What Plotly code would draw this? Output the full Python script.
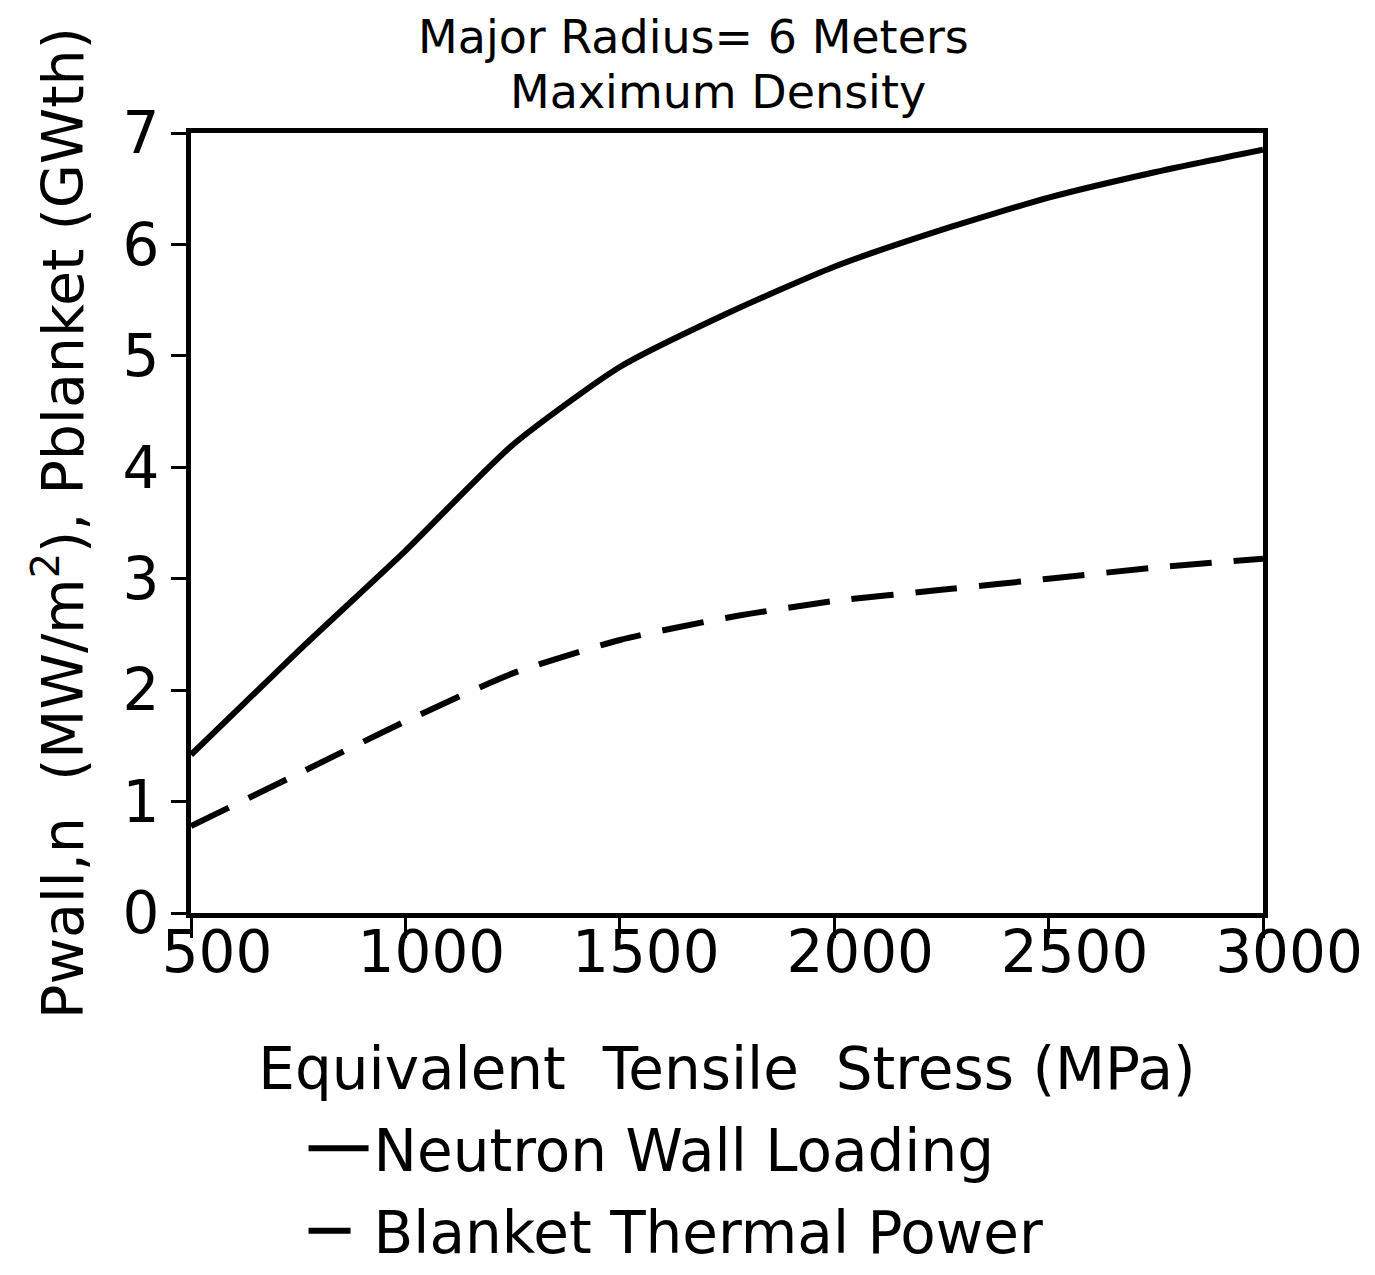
import plotly.graph_objects as go

stress_mpa = [500, 750, 1000, 1250, 1500, 1750, 2000, 2250, 2500, 2750, 3000]
wall_loading = [1.42, 2.35, 3.25, 4.20, 4.90, 5.38, 5.80, 6.13, 6.42, 6.65, 6.85]
blanket_power = [0.78, 1.25, 1.72, 2.15, 2.45, 2.65, 2.80, 2.90, 3.00, 3.10, 3.18]

x_ticks = [500, 1000, 1500, 2000, 2500, 3000]
y_ticks = [0, 1, 2, 3, 4, 5, 6, 7]

FONT = "DejaVu Sans, sans-serif"

fig = go.Figure()
fig.add_trace(go.Scatter(
    x=stress_mpa, y=wall_loading, mode="lines", name="Neutron Wall Loading",
    line=dict(color="black", width=6, shape="spline", smoothing=0.6),
    legendgroup="a",
))
fig.add_trace(go.Scatter(
    x=stress_mpa, y=blanket_power, mode="lines", name="Blanket Thermal Power",
    line=dict(color="black", width=6, dash="42px,22px", shape="spline", smoothing=0.6),
    legendgroup="b",
))

fig.update_layout(
    width=1375, height=1275,
    margin=dict(l=183, r=120, t=125, b=370, autoexpand=False),
    paper_bgcolor="white", plot_bgcolor="white",
    font=dict(family=FONT, size=56, color="black"),
    showlegend=True,
    legend=dict(
        x=0.105, y=-0.245, xanchor="left", yanchor="top",
        font=dict(size=58), traceorder="grouped", tracegroupgap=4,
        itemwidth=60, bgcolor="rgba(0,0,0,0)",
    ),
    annotations=[
        dict(text="Major Radius= 6 Meters", xref="paper", yref="paper",
             x=(685 - 183) / 1072, y=1.0, xanchor="center", yanchor="middle",
             yshift=96, showarrow=False, font=dict(size=46, family=FONT)),
        dict(text="Maximum Density", xref="paper", yref="paper",
             x=(710 - 183) / 1072, y=1.0, xanchor="center", yanchor="middle",
             yshift=41, showarrow=False, font=dict(size=46, family=FONT)),
    ],
)

fig.update_xaxes(
    range=[500, 3000], tickvals=x_ticks, ticktext=[str(v) for v in x_ticks],
    showline=True, linecolor="black", linewidth=5, mirror=True,
    ticks="outside", ticklen=20, tickwidth=3, tickcolor="black",
    showgrid=False, zeroline=False, automargin=False,
    tickfont=dict(size=58), ticklabelshift=26, ticklabelstandoff=-36,
    title=dict(text="Equivalent  Tensile  Stress (MPa)", font=dict(size=58), standoff=65),
)
fig.update_yaxes(
    range=[0, 7], tickvals=y_ticks,
    showline=True, linecolor="black", linewidth=5, mirror=True,
    ticks="outside", ticklen=15, tickwidth=3, tickcolor="black",
    showgrid=False, zeroline=False, automargin=False,
    tickfont=dict(size=58),
    title=dict(text="Pwall,n  (MW/m<sup>2</sup>), Pblanket (GWth)", font=dict(size=57), standoff=22),
)

fig.write_html("out.html")
